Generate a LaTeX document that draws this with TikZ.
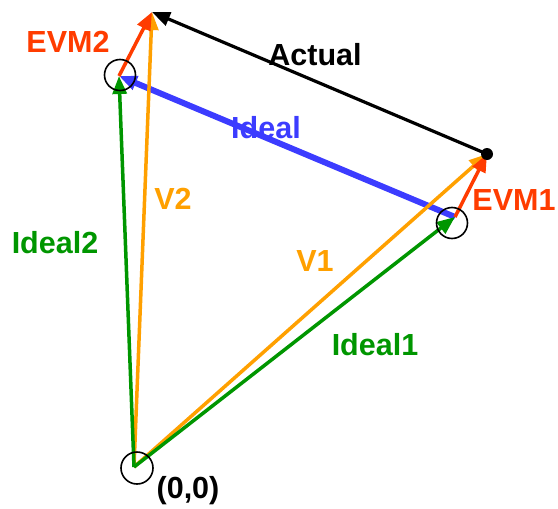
\documentclass[tikz,border=0pt]{standalone}
\usepackage{fontspec}
\setmainfont{Liberation Sans}
\usetikzlibrary{arrows.meta}
\definecolor{cgreen}{RGB}{0,150,0}
\definecolor{corange}{RGB}{255,160,0}
\definecolor{cred}{RGB}{255,60,0}
\definecolor{cblue}{RGB}{60,60,255}
\begin{document}
\begin{tikzpicture}[x=1pt,y=-1pt,
  vec/.style={line width=3.5pt,-{Triangle[length=18pt,width=14pt]}},
  lbl/.style={font=\fontsize{30.5}{33}\selectfont\bfseries,inner sep=0pt},
  ring/.style={circle,draw=black,line width=1.6pt,minimum size=32pt,inner sep=0pt}]
\useasboundingbox (0,0) rectangle (558,509);
\coordinate (O) at (134,467);
\coordinate (I2) at (119,76);
\coordinate (A2) at (152,12);
\coordinate (I1) at (455,217);
\coordinate (A1) at (487,154);
% connectors
\draw[vec,black,line width=3.2pt] (A1) -- (A2);
\draw[vec,cblue,line width=6pt] (I1) -- (I2);
\draw[vec,corange] (O) -- (A2);
\draw[vec,corange] (O) -- (A1);
\draw[vec,cgreen] (O) -- (I2);
\draw[vec,cgreen] (O) -- (I1);
\draw[vec,cred] (I2) -- (A2);
\draw[vec,cred] (I1) -- (A1);
% markers
\node[ring] (rO) at (137,468) {};
\node[ring,minimum size=31pt] (rI2) at (120,75) {};
\node[ring,minimum size=31pt] (rI1) at (452,223) {};
\node[circle,fill=black,minimum size=12pt,inner sep=0pt] (dot) at (A1) {};
% labels
\node[lbl,text=cred] (tEVM2) at (68,42) {EVM2};
\node[lbl,text=black] (tAct) at (315,55) {Actual};
\node[lbl,text=cblue] (tIdeal) at (266,128) {Ideal};
\node[lbl,text=corange] (tV2) at (173,199) {V2};
\node[lbl,text=cgreen] (tI2) at (55,243) {Ideal2};
\node[lbl,text=corange] (tV1) at (315,261) {V1};
\node[lbl,text=cred] (tEVM1) at (514,200) {EVM1};
\node[lbl,text=cgreen] (tI1) at (375,345) {Ideal1};
\node[lbl,text=black] (tO) at (188,491) {(0,0)};
\end{tikzpicture}
\end{document}
